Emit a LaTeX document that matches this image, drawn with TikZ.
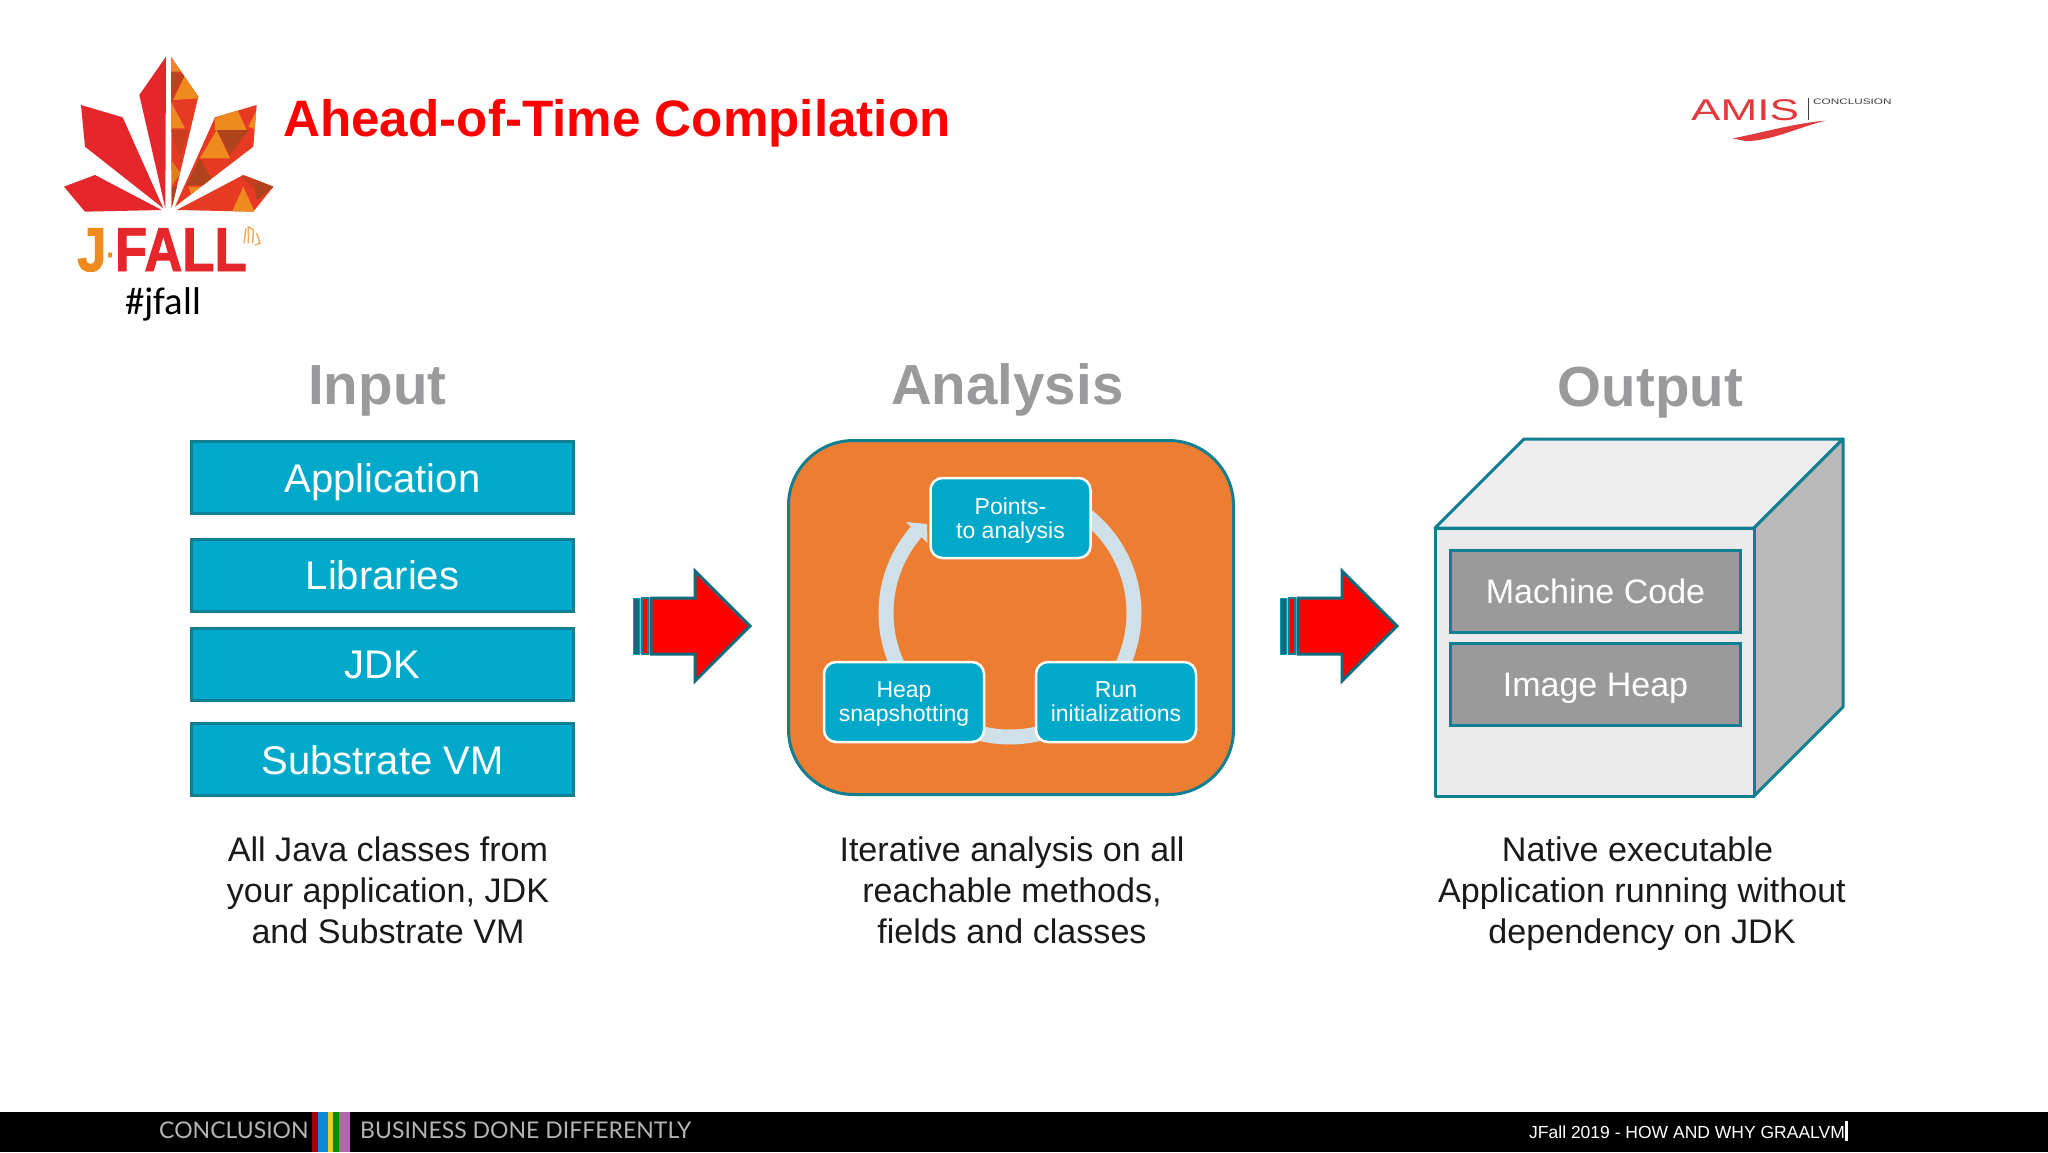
\documentclass[tikz,border=0pt]{standalone}
\usepackage{fontspec}
\setmainfont{Liberation Sans}
\newfontfamily\calfont{Carlito}
\newfontfamily\footfont{Lato}
\newfontfamily\logofont[FakeStretch=0.85,BoldFeatures={FakeStretch=0.85,FakeBold=1.5}]{Liberation Sans}
\newfontfamily\amisfont[FakeStretch=1.47]{Liberation Sans}
\definecolor{tealline}{HTML}{117F92}
\definecolor{boxblue}{HTML}{00A9C9}
\definecolor{orangebg}{HTML}{ED7D31}
\definecolor{ringcol}{HTML}{CFE0E8}
\definecolor{headgray}{HTML}{9A9A9C}
\definecolor{blockgray}{HTML}{9B9A9B}
\definecolor{facegray}{HTML}{EBEBEB}
\definecolor{topgray}{HTML}{EEEEEF}
\definecolor{sidegray}{HTML}{BABABA}
\definecolor{logored}{HTML}{E5262B}
\definecolor{mosred}{HTML}{E63A22}
\definecolor{mosorange}{HTML}{EE8A1E}
\definecolor{mosdark}{HTML}{AE431C}
\definecolor{amisred}{HTML}{E23A3C}
\definecolor{capblack}{HTML}{1A1A1A}
\definecolor{footgray}{HTML}{B4B4B4}
\tikzset{
  inbox/.style={draw=tealline,line width=3pt,fill=boxblue,text=white,minimum width=382pt,minimum height=72pt,font=\fontsize{40}{44}\selectfont,text height=29pt,text depth=0pt,inner sep=0pt},
  cyclebox/.style={draw=white,line width=2.5pt,fill=boxblue,text=white,rounded corners=12pt,minimum width=160pt,minimum height=80pt,font=\fontsize{23}{24}\selectfont,align=center,text depth=0pt,inner sep=0pt},
  outbox/.style={draw=tealline,line width=3pt,fill=blockgray,text=white,minimum width=290pt,minimum height=82pt,font=\fontsize{34}{38}\selectfont,text height=24.5pt,text depth=0pt,inner sep=0pt},
  heading/.style={text=headgray,font=\fontsize{56.5}{62}\selectfont\bfseries,anchor=base,inner sep=0pt},
  caption/.style={text=capblack,font=\fontsize{34.1}{41}\selectfont,align=center,anchor=north,inner sep=0pt},
  facestyle/.style={draw=tealline,line width=3pt,line join=round},
  leaf/.style={fill=logored},
}
\begin{document}
\begin{tikzpicture}[x=1pt,y=1pt,yscale=-1]
\useasboundingbox (0,0) rectangle (2048,1152);
\fill[white] (0,0) rectangle (2048,1152);
% logo leaves
\begin{scope}[shift={(40,30)},scale=1/3]
 \fill[leaf] (378,80)--(298,195)--(376,535)--cycle;
 \fill[leaf] (123,225)--(248,262)--(370,535)--(135,350)--cycle;
 \fill[leaf] (72,470)--(165,435)--(365,540)--(135,545)--cycle;
 \begin{scope}
  \clip (393,80)--(475,200)--(395,535)--cycle;
  \fill[mosred] (380,70) rectangle (490,540);
  \fill[mosorange] (400,210)--(480,205)--(435,135)--cycle;
  \fill[mosorange] (393,80)--(393,125)--(425,125)--cycle;
  \fill[mosdark!70!mosred] (393,125)--(393,210)--(435,135)--cycle;
  \fill[mosorange] (393,215)--(393,295)--(435,295)--cycle;
  \fill[mosdark!50!mosred] (393,300)--(445,300)--(420,385)--cycle;
  \fill[mosorange!80!mosdark] (393,390)--(393,470)--(422,430)--cycle;
  \fill[mosdark] (393,470)--(393,535)--(420,470)--cycle;
 \end{scope}
 \begin{scope}
  \clip (650,225)--(525,262)--(405,530)--(640,350)--cycle;
  \fill[mosred] (400,220) rectangle (655,535);
  \fill[mosorange] (525,265)--(590,235)--(620,300)--(525,300)--cycle;
  \fill[mosorange] (625,290)--(650,240)--(650,300)--cycle;
  \fill[mosdark] (530,300)--(625,300)--(570,375)--cycle;
  \fill[mosorange] (480,385)--(530,300)--(570,385)--cycle;
  \fill[mosdark] (440,465)--(480,385)--(525,465)--cycle;
  \fill[mosorange] (445,470)--(490,470)--(455,495)--cycle;
 \end{scope}
 \begin{scope}
  \clip (700,470)--(610,435)--(410,540)--(640,545)--cycle;
  \fill[mosred] (400,430) rectangle (705,550);
  \fill[mosorange] (575,548)--(645,548)--(610,470)--cycle;
  \fill[mosdark] (640,445)--(705,470)--(650,510)--cycle;
  \fill[mosdark!60!mosred] (600,435)--(665,450)--(640,475)--cycle;
 \end{scope}
 \draw[mosorange!70!white,line width=1.5pt] (612,640)--(618,595) (625,640)--(625,590)--(640,600)--(638,640) (650,610)--(660,640)--(645,645);
\end{scope}
\node[anchor=base west,inner sep=0pt,font=\logofont\fontsize{62}{62}\selectfont\bfseries] (jfalllogo) at (77,271) {\textcolor{mosorange}{J}\textcolor{mosorange}{\fontsize{30}{30}\selectfont\raisebox{6pt}{·}}\textcolor{logored}{FALL}};
\node[anchor=base,inner sep=0pt,font=\calfont\fontsize{38.7}{38.7}\selectfont,text=black] (tag) at (163,314) {\#jfall};
% title
\node[anchor=base west,inner sep=0pt,text=red,font=\fontsize{51.2}{56}\selectfont\bfseries] (title) at (283,136) {Ahead-of-Time Compilation};
% AMIS logo
\node[anchor=base west,inner sep=0pt,text=amisred,font=\amisfont\fontsize{30}{30}\selectfont] (amis) at (1691,120) {AMIS};
\fill[black!75] (1807.5,98) rectangle (1809,120);
\node[anchor=base west,inner sep=0pt,text=black!75,font=\amisfont\fontsize{8}{8}\selectfont] (amistag) at (1813,104) {CONCLUSION};
\begin{scope}[shift={(1660,70)},scale=1/3]
 \fill[amisred] (218,205) .. controls (300,190) and (400,160) .. (497,152) .. controls (420,170) and (330,215) .. (255,213) -- cycle;
\end{scope}
% headings
\node[heading] (hinput) at (377.3,404) {Input};
\node[heading] (hanalysis) at (1007.3,404) {Analysis};
\node[heading] (houtput) at (1650.3,406) {Output};
% input boxes
\node[inbox] (app) at (382.5,477.5) {Application};
\node[inbox] (lib) at (382.5,575) {Libraries};
\node[inbox] (jdk) at (382.5,664) {JDK};
\node[inbox] (svm) at (382.5,759.5) {Substrate VM};
% block arrows
\foreach \dx in {0,647}{
 \begin{scope}[shift={(\dx,0)}]
  \fill[tealline!85!black,draw=boxblue!70!tealline,line width=1pt] (633,598) rectangle (639.5,654);
  \fill[red,draw=tealline,line width=2pt] (642,598) rectangle (647.5,654);
  \draw[boxblue!60!white,line width=1pt] (640.5,598)--(640.5,654) (649.5,598)--(649.5,654);
  \fill[red,draw=tealline!85!black,line width=3pt,line join=miter] (651,598)--(695,598)--(695,571)--(750,626)--(695,681)--(695,654)--(651,654)--cycle;
 \end{scope}
}
% analysis
\draw[fill=orangebg,draw=tealline,line width=3pt,rounded corners=65pt] (788.5,440.5) rectangle (1233.5,794.5);
\coordinate (ringcentre) at (1010,613);
\draw[ringcol,line width=15pt] (ringcentre) ++(-139:124) arc[start angle=-139,end angle=-430,radius=124];
\fill[ringcol] (906,522)--(927,524)--(927.5,543)--cycle;
\node[cyclebox] (pts) at (1010.5,518) {Points-\\to analysis};
\node[cyclebox] (heap) at (904,702) {Heap\\snapshotting};
\node[cyclebox] (run) at (1116,702) {Run\\initializations};
% output cube
\fill[topgray,facestyle] (1435,528)--(1524,439)--(1843,439)--(1754,528)--cycle;
\fill[sidegray,facestyle] (1754,528)--(1843,439)--(1843,707)--(1754,796)--cycle;
\fill[facegray,facestyle] (1435,528) rectangle (1754,796);
\node[outbox] (mcode) at (1595.5,591.5) {Machine Code};
\node[outbox] (iheap) at (1595.5,684.5) {Image Heap};
% captions
\node[caption] (capinput) at (388,836.5) {All Java classes from\\your application, JDK\\and Substrate VM};
\node[caption] (capanalysis) at (1012,836.5) {Iterative analysis on all\\reachable methods,\\fields and classes};
\node[caption] (capoutput) at (1642,836.5) {Native executable\kern9pt\\Application running without\\dependency on JDK};
% footer
\fill[black] (0,1112) rectangle (2048,1152);
\fill[red!65!black] (312,1112) rectangle (318,1152);
\fill[cyan!70!blue] (318,1112) rectangle (328,1152);
\fill[yellow!85!black] (328,1112) rectangle (333,1152);
\fill[green!55!black] (333,1112) rectangle (339,1152);
\fill[violet!60!white] (339,1112) rectangle (350,1152);
\node[anchor=base west,inner sep=0pt,text=footgray,font=\footfont\fontsize{23}{23}\selectfont] (fconc) at (159,1138) {CONCLUSION};
\node[anchor=base west,inner sep=0pt,text=footgray,font=\footfont\fontsize{23}{23}\selectfont] (fbus) at (360,1138) {BUSINESS DONE DIFFERENTLY};
\node[anchor=base west,inner sep=0pt,text=white,font=\fontsize{17.5}{18}\selectfont] (fright) at (1529,1138) {JFall 2019 - HOW AND WHY GRAALVM};
\fill[white] (1845,1121) rectangle (1847.5,1141);
\end{tikzpicture}
\end{document}
